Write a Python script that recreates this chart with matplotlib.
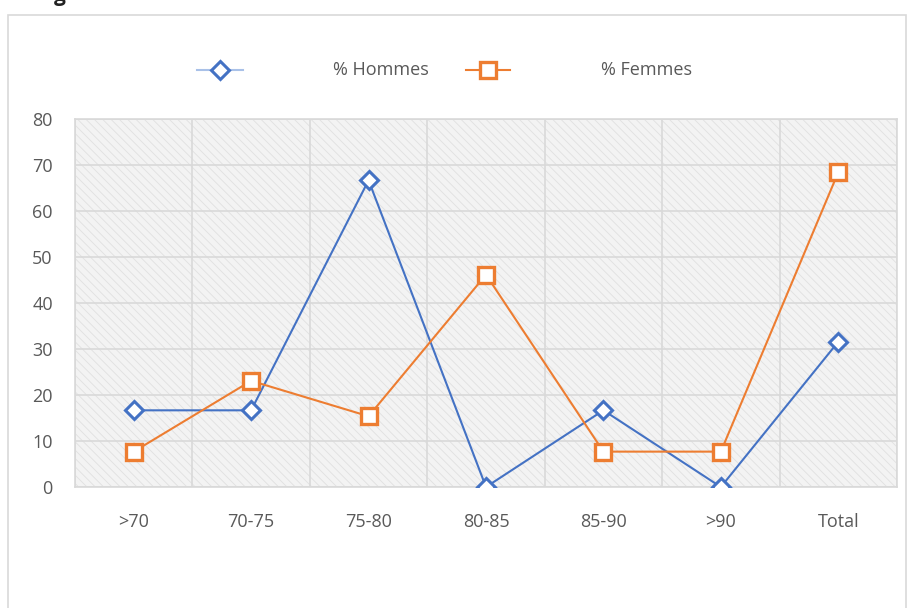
import matplotlib.pyplot as plt
from matplotlib.lines import Line2D
from matplotlib.patches import Rectangle
import numpy as np

# --- données ---
categories = [">70", "70-75", "75-80", "80-85", "85-90", ">90", "Total"]
hommes = [16.67, 16.67, 66.67, 0.0, 16.67, 0.0, 31.58]
femmes = [7.69, 23.08, 15.38, 46.15, 7.69, 7.69, 68.42]
yticks = [0, 10, 20, 30, 40, 50, 60, 70, 80]

BLUE = "#4472C4"
ORANGE = "#ED7D31"
GRIS = "#595959"
GRILLE = "#d9d9d9"

plt.rcParams['font.family'] = ['Open Sans', 'DejaVu Sans']
plt.rcParams['hatch.linewidth'] = 0.6

W, H = 907, 608
fig = plt.figure(figsize=(W / 100, H / 100), dpi=100)

# cadre du graphique
fig.add_artist(Rectangle((8 / W, -0.01), (W - 9) / W, 1 - 15 / H + 0.01,
                         transform=fig.transFigure, fill=False,
                         edgecolor=GRILLE, lw=1.2))

# bout de titre coupé en haut (comme dans l'original)
fig.text(60 / W, 1.0 - 0.5 / H, "g", fontsize=15, fontweight="bold",
         color="#222222", ha="center", va="baseline")

ax = fig.add_axes([75 / W, 1 - 487 / H, (897 - 75) / W, (487 - 119) / H])
x = np.arange(len(categories))

# fond hachuré
ax.set_facecolor("#f3f3f3")
ax.add_patch(Rectangle((0, 0), 1, 1, transform=ax.transAxes, facecolor="none",
                       edgecolor="#e0e0e0", hatch="\\\\\\\\", lw=0, zorder=0))

ax.set_xlim(-0.5, len(categories) - 0.5)
ax.set_ylim(0, 80)

# grille
for b in np.arange(-0.5, len(categories), 1.0):
    ax.axvline(b, color=GRILLE, lw=1.2, zorder=1)
for t in yticks:
    ax.axhline(t, color=GRILLE, lw=1.2, zorder=1)

ax.plot(x, hommes, color=BLUE, lw=1.5, marker="D", ms=9,
        mfc="white", mec=BLUE, mew=2.2, zorder=3)
ax.plot(x, femmes, color=ORANGE, lw=1.5, marker="s", ms=11,
        mfc="white", mec=ORANGE, mew=2.4, zorder=3)

for s in ax.spines.values():
    s.set_color(GRILLE)
    s.set_linewidth(1.2)

ax.set_xticks(x)
ax.set_xticklabels(categories)
ax.set_yticks(yticks)
ax.tick_params(length=0, labelsize=13, colors=GRIS)
ax.tick_params(axis="x", pad=19)
ax.tick_params(axis="y", pad=16)

# légende
ly = 1 - 70 / H
fig.add_artist(Line2D([197 / W, 243 / W], [ly, ly], color="#a9c1e8", lw=1.5))
fig.add_artist(Line2D([220 / W], [ly], marker="D", ms=9, mfc="white",
                      mec=BLUE, mew=2.2))
fig.text(333 / W, ly, "% Hommes", fontsize=13, color=GRIS, va="center")
fig.add_artist(Line2D([466 / W, 510 / W], [ly, ly], color=ORANGE, lw=1.5))
fig.add_artist(Line2D([488 / W], [ly], marker="s", ms=11, mfc="white",
                      mec=ORANGE, mew=2.4))
fig.text(601 / W, ly, "% Femmes", fontsize=13, color=GRIS, va="center")

fig.savefig("out.png", dpi=100)
